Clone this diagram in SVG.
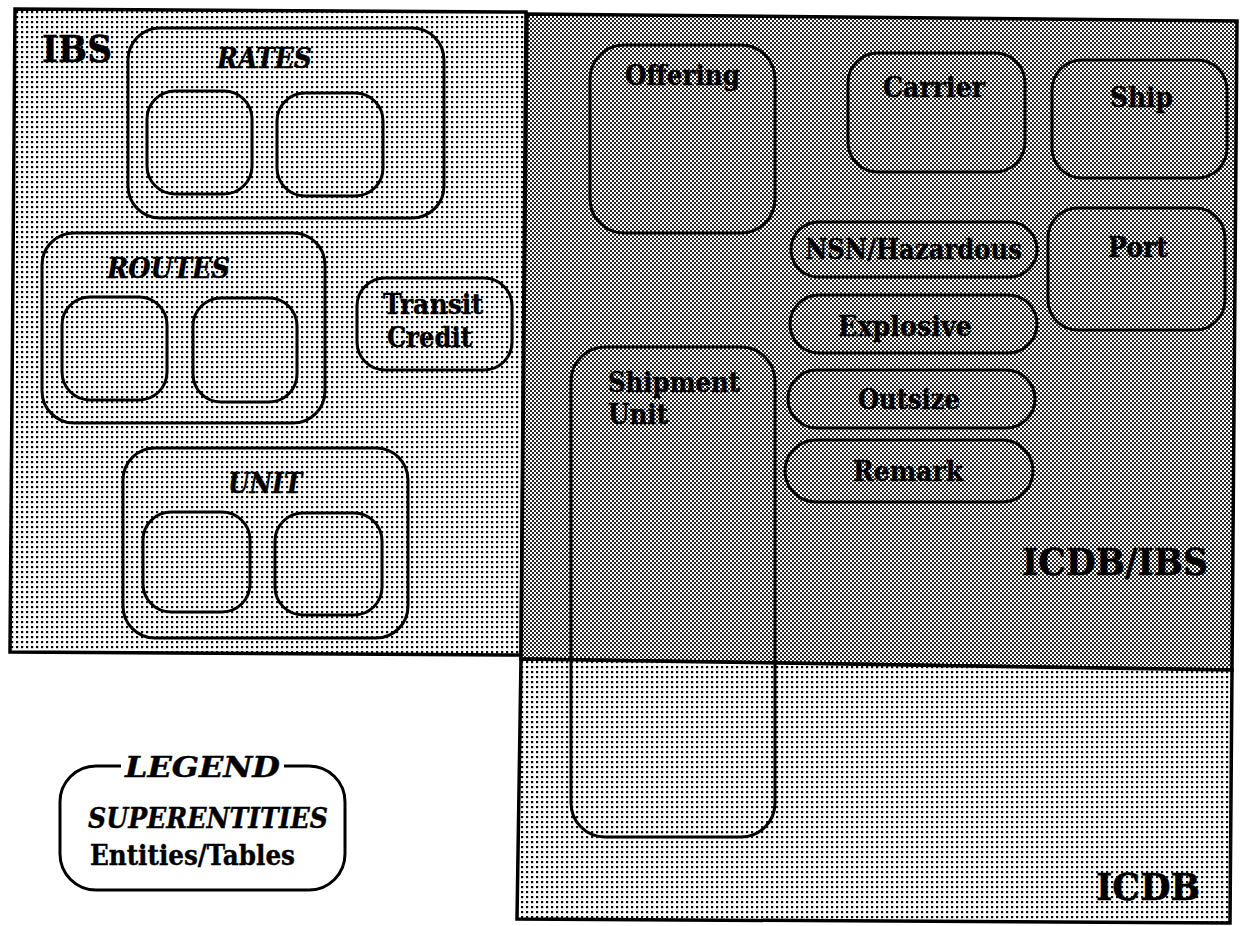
<svg xmlns="http://www.w3.org/2000/svg" width="1242" height="926" viewBox="0 0 1242 926">
  <style>
    .region { stroke: #000; stroke-width: 3.5; stroke-linejoin: miter; }
    .box { fill: none; stroke: #000; stroke-width: 3; }
    .ent { font-family: "DejaVu Serif", "Liberation Serif", serif; font-weight: bold; font-size: 27px; fill: #000; stroke: #000; stroke-width: 0.4; }
    .sup { font-family: "DejaVu Serif", "Liberation Serif", serif; font-weight: bold; font-style: italic; font-size: 27px; fill: #000; stroke: #000; stroke-width: 0.4; }
    .area { font-family: "DejaVu Serif", "Liberation Serif", serif; font-weight: bold; font-size: 38px; fill: #000; stroke: #000; stroke-width: 0.5; }
  </style>
  <defs>
    <!-- open halftone dot screen -->
    <pattern id="dots" width="5" height="5" patternUnits="userSpaceOnUse">
      <rect width="5" height="5" fill="#fff"/>
      <rect x="1" y="1" width="2.2" height="2.2" fill="#000"/>
    </pattern>
    <!-- dense checker screen -->
    <pattern id="checker" width="4" height="4" patternUnits="userSpaceOnUse">
      <rect width="4" height="4" fill="#fff"/>
      <rect width="2" height="2" fill="#262626"/>
      <rect x="2" y="2" width="2" height="2" fill="#262626"/>
    </pattern>
  </defs>

  <rect width="1242" height="926" fill="#fff"/>

  <!-- areas -->
  <g id="area-ibs">
    <polygon class="region" points="15,9 526,12 521,655 10,652" fill="url(#dots)"/>
    <text class="area" x="42" y="62" textLength="70" lengthAdjust="spacingAndGlyphs">IBS</text>
  </g>
  <g id="area-icdb-ibs">
    <polygon class="region" points="527,14 1237,21 1232,670 521,659" fill="url(#checker)"/>
    <text class="area" x="1022" y="575" textLength="186" lengthAdjust="spacingAndGlyphs">ICDB/IBS</text>
  </g>
  <g id="area-icdb">
    <polygon class="region" points="521,659 1232,670 1230,923 517,919" fill="url(#dots)"/>
    <text class="area" x="1096" y="900" textLength="104" lengthAdjust="spacingAndGlyphs">ICDB</text>
  </g>

  <!-- superentities -->
  <g id="rates">
    <rect class="box" x="128" y="28" width="316" height="190" rx="32"/>
    <text class="sup" x="217" y="68" textLength="95" lengthAdjust="spacingAndGlyphs">RATES</text>
    <rect class="box" x="147" y="91" width="105" height="103" rx="28"/>
    <rect class="box" x="277" y="93" width="106" height="103" rx="28"/>
  </g>
  <g id="routes">
    <rect class="box" x="42" y="233" width="283" height="190" rx="32"/>
    <text class="sup" x="107" y="278" textLength="123" lengthAdjust="spacingAndGlyphs">ROUTES</text>
    <rect class="box" x="62" y="297" width="105" height="103" rx="28"/>
    <rect class="box" x="193" y="298" width="104" height="104" rx="28"/>
  </g>
  <g id="unit">
    <rect class="box" x="123" y="448" width="285" height="190" rx="32"/>
    <text class="sup" x="228" y="493" textLength="74" lengthAdjust="spacingAndGlyphs">UNIT</text>
    <rect class="box" x="143" y="512" width="107" height="100" rx="28"/>
    <rect class="box" x="275" y="513" width="107" height="102" rx="28"/>
  </g>
  <g id="transit-credit">
    <rect class="box" x="357" y="278" width="155" height="92" rx="28"/>
    <text class="ent" x="383" y="314" textLength="100" lengthAdjust="spacingAndGlyphs">Transit</text>
    <text class="ent" x="387" y="347" textLength="85" lengthAdjust="spacingAndGlyphs">Credit</text>
  </g>

  <!-- entities -->
  <g id="offering">
    <rect class="box" x="590" y="45" width="185" height="188" rx="34"/>
    <text class="ent" x="625" y="85" textLength="115" lengthAdjust="spacingAndGlyphs">Offering</text>
  </g>
  <g id="carrier">
    <rect class="box" x="848" y="53" width="177" height="119" rx="30"/>
    <text class="ent" x="883" y="97" textLength="102" lengthAdjust="spacingAndGlyphs">Carrier</text>
  </g>
  <g id="ship">
    <rect class="box" x="1052" y="60" width="175" height="118" rx="30"/>
    <text class="ent" x="1110" y="107" textLength="63" lengthAdjust="spacingAndGlyphs">Ship</text>
  </g>
  <g id="port">
    <rect class="box" x="1048" y="208" width="177" height="122" rx="30"/>
    <text class="ent" x="1108" y="257" textLength="60" lengthAdjust="spacingAndGlyphs">Port</text>
  </g>
  <g id="nsn-hazardous">
    <rect class="box" x="791" y="222" width="246" height="55" rx="27.5"/>
    <text class="ent" x="805" y="259" textLength="217" lengthAdjust="spacingAndGlyphs">NSN/Hazardous</text>
  </g>
  <g id="explosive">
    <rect class="box" x="790" y="295" width="247" height="58" rx="29"/>
    <text class="ent" x="838" y="336" textLength="134" lengthAdjust="spacingAndGlyphs">Explosive</text>
  </g>
  <g id="outsize">
    <rect class="box" x="788" y="370" width="247" height="58" rx="29"/>
    <text class="ent" x="858" y="409" textLength="102" lengthAdjust="spacingAndGlyphs">Outsize</text>
  </g>
  <g id="remark">
    <rect class="box" x="785" y="440" width="248" height="62" rx="31"/>
    <text class="ent" x="853" y="481" textLength="110" lengthAdjust="spacingAndGlyphs">Remark</text>
  </g>
  <g id="shipment-unit">
    <rect class="box" x="571" y="347" width="204" height="490" rx="34"/>
    <text class="ent" x="608" y="392" textLength="132" lengthAdjust="spacingAndGlyphs">Shipment</text>
    <text class="ent" x="608" y="424" textLength="60" lengthAdjust="spacingAndGlyphs">Unit</text>
  </g>

  <!-- legend -->
  <g id="legend">
    <path class="box" d="M121,766 H96 A36,36 0 0 0 60,802 V854 A36,36 0 0 0 96,890 H309 A36,36 0 0 0 345,854 V802 A36,36 0 0 0 309,766 H284"/>
    <text class="sup" x="125" y="777" font-size="33" textLength="155" lengthAdjust="spacingAndGlyphs">LEGEND</text>
    <text class="sup" x="88" y="828" textLength="240" lengthAdjust="spacingAndGlyphs">SUPERENTITIES</text>
    <text class="ent" x="90" y="865" font-size="28" textLength="205" lengthAdjust="spacingAndGlyphs">Entities/Tables</text>
  </g>

  <!-- no connectors in this chart -->
  <g id="connectors"/>
</svg>
